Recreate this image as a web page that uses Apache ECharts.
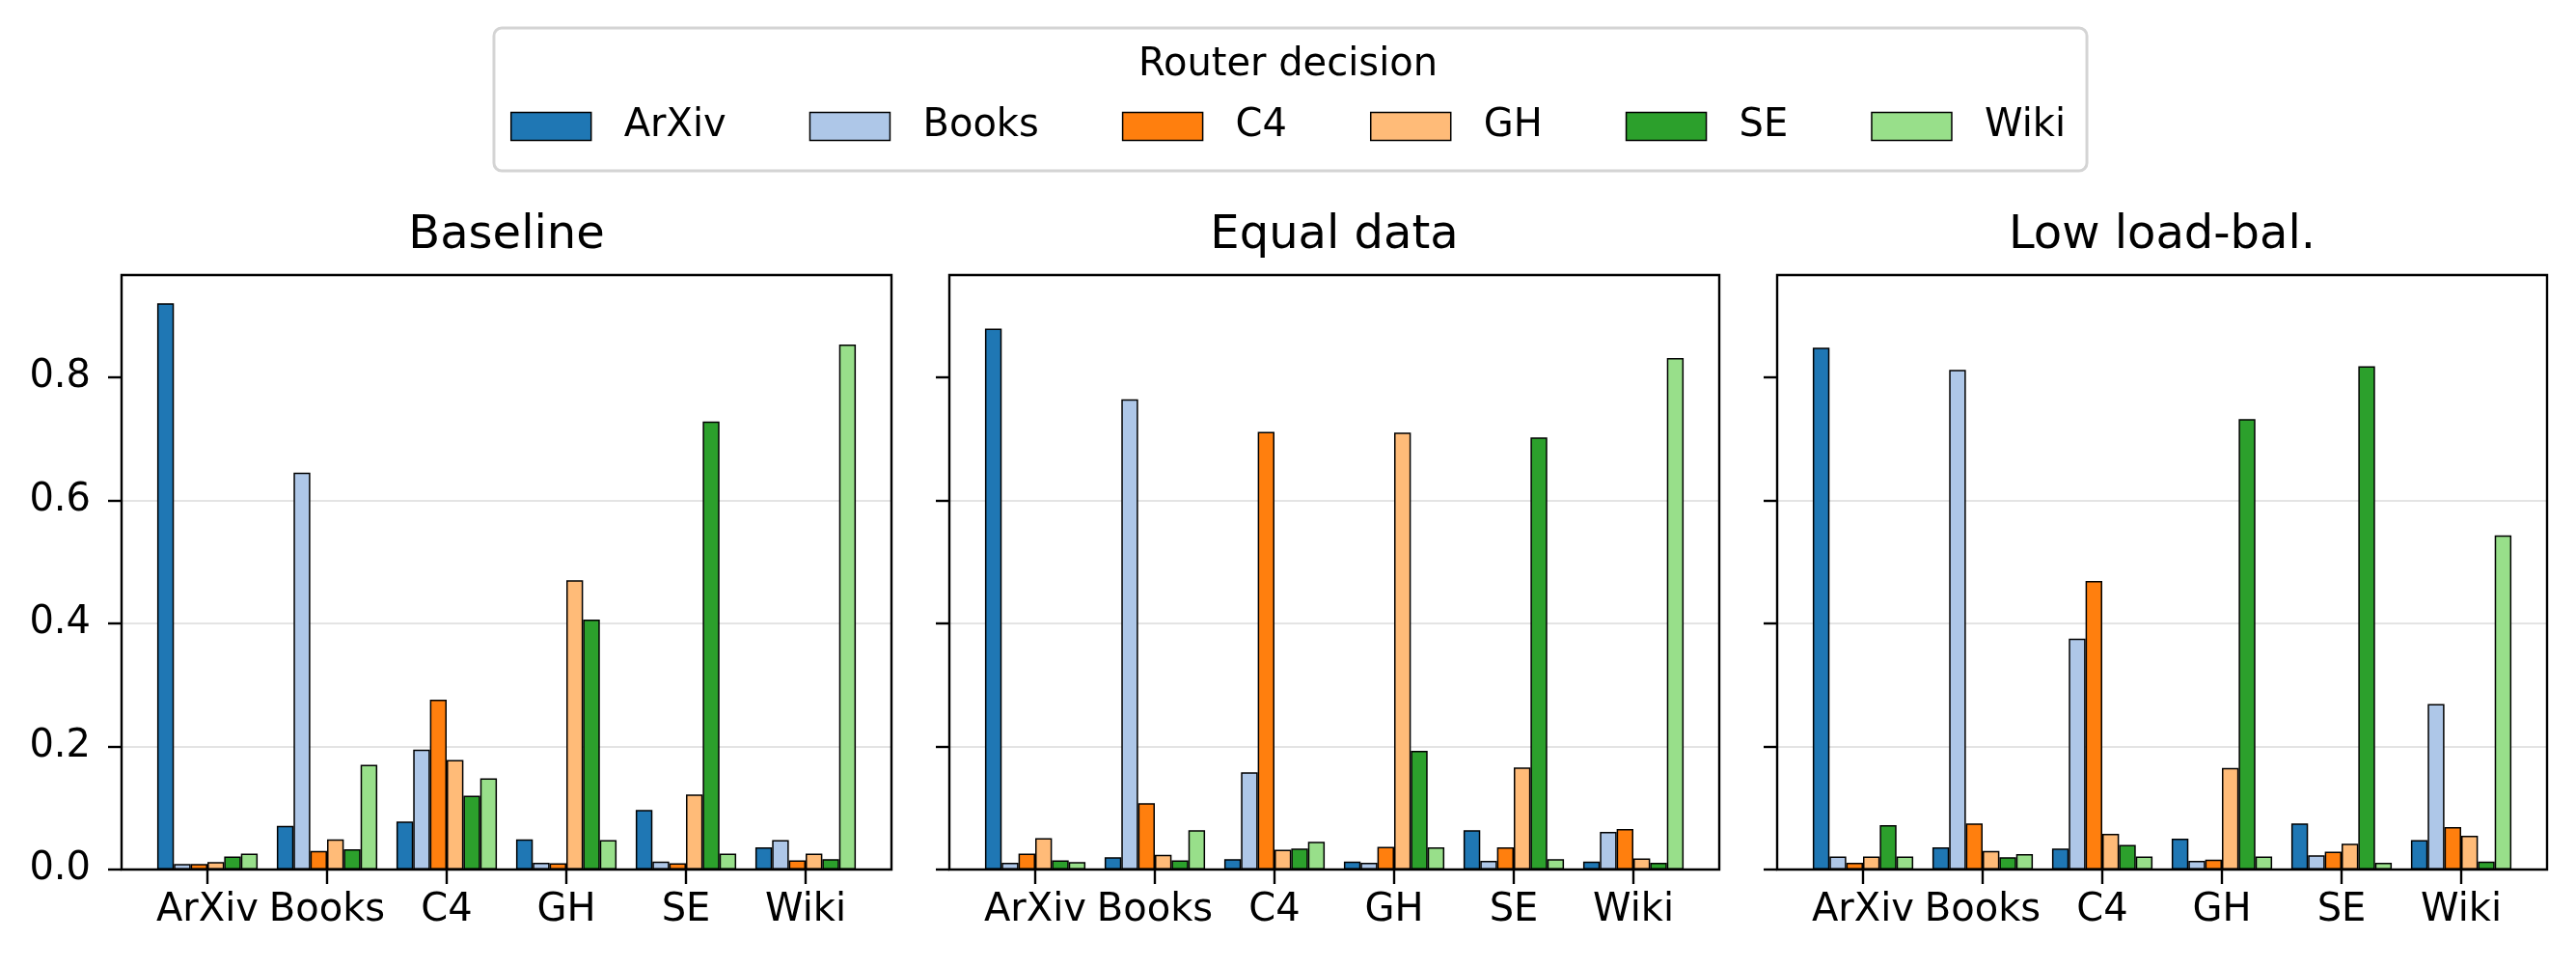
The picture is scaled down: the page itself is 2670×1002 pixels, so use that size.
<!DOCTYPE html>
<html>

<head>
    <meta charset='utf-8' />
    <script src="https://cdn.jsdelivr.net/npm/echarts@6/dist/echarts.min.js"></script>
    <title>Router decision</title>
    <style>
        body {
            margin: 0;
            overflow: hidden;
            background: #fff;
        }

        #chart {
            width: 2670px;
            height: 1002px;
        }
    </style>
</head>

<body>
    <div id="chart"></div>
    <script type="text/javascript">
        // input data source on the x axis, router decision = bar colour
        var categories = ['ArXiv', 'Books', 'C4', 'GH', 'SE', 'Wiki'];
        var routers = ['ArXiv', 'Books', 'C4', 'GH', 'SE', 'Wiki'];
        var panelTitles = ['Baseline', 'Equal data', 'Low load-bal.'];
        var yTicks = [0, 0.2, 0.4, 0.6, 0.8];

        // one row per input category, columns follow routers[]
        var baseline = [
            [0.920, 0.009, 0.009, 0.012, 0.021, 0.026],
            [0.071, 0.645, 0.030, 0.049, 0.033, 0.170],
            [0.078, 0.195, 0.276, 0.178, 0.120, 0.148],
            [0.049, 0.011, 0.010, 0.470, 0.406, 0.048],
            [0.097, 0.013, 0.010, 0.122, 0.728, 0.026],
            [0.036, 0.048, 0.015, 0.026, 0.017, 0.853]
        ];
        var equalData = [
            [0.879, 0.011, 0.026, 0.051, 0.015, 0.012],
            [0.020, 0.764, 0.108, 0.024, 0.015, 0.064],
            [0.017, 0.158, 0.711, 0.032, 0.034, 0.045],
            [0.013, 0.011, 0.037, 0.710, 0.193, 0.036],
            [0.064, 0.014, 0.036, 0.166, 0.702, 0.017],
            [0.013, 0.061, 0.066, 0.018, 0.011, 0.831]
        ];
        var lowLoadBal = [
            [0.848, 0.021, 0.011, 0.021, 0.072, 0.021],
            [0.036, 0.812, 0.075, 0.030, 0.020, 0.025],
            [0.034, 0.375, 0.469, 0.058, 0.040, 0.021],
            [0.050, 0.014, 0.016, 0.165, 0.732, 0.021],
            [0.075, 0.023, 0.029, 0.042, 0.818, 0.011],
            [0.048, 0.269, 0.069, 0.055, 0.013, 0.543]
        ];
        var panels = [baseline, equalData, lowLoadBal];

        var colors = ['#1f77b4', '#aec7e8', '#ff7f0e', '#ffbb78', '#2ca02c', '#98df8a'];
        var font = 'DejaVu Sans';
        var yMax = 0.966;

        // plot boxes (pixels)
        var boxes = [[126, 924], [984, 1782], [1842, 2640]];
        var boxTop = 285, boxHeight = 616;
        var pad = 27; // matplotlib x margin inside the box

        var grid = [], xAxis = [], yAxis = [], series = [], graphic = [];
        var titles = [{
            text: 'Router decision',
            left: 1335,
            top: 48,
            padding: 0,
            textAlign: 'center',
            textStyle: { fontFamily: font, fontSize: 40, fontWeight: 'normal', color: '#000' }
        }];

        boxes.forEach(function (b, p) {
            var w = b[1] - b[0];
            // frame grid: y ticks, labels, gridlines
            grid.push({ left: b[0], top: boxTop, width: w, height: boxHeight, outerBoundsMode: 'none' });
            // bar grid, narrower to keep the matplotlib margins
            grid.push({ left: b[0] + pad, top: boxTop, width: w - 2 * pad, height: boxHeight, outerBoundsMode: 'none' });

            xAxis.push({ gridIndex: 2 * p, type: 'value', min: 0, max: 1, show: false });
            yAxis.push({
                gridIndex: 2 * p,
                type: 'value',
                min: 0,
                max: yMax,
                interval: 0.2,
                axisLine: { show: false },
                axisTick: {
                    show: true,
                    length: 14,
                    customValues: yTicks,
                    lineStyle: { color: '#000', width: 2.4 }
                },
                axisLabel: {
                    show: p === 0,
                    customValues: yTicks,
                    margin: 32,
                    fontFamily: font,
                    fontSize: 40,
                    color: '#000',
                    formatter: function (v) { return v.toFixed(1); }
                },
                splitLine: { show: true, showMaxLine: false, lineStyle: { color: '#e4e4e4', width: 2 } }
            });

            xAxis.push({
                gridIndex: 2 * p + 1,
                type: 'category',
                data: categories,
                boundaryGap: true,
                axisLine: { show: false },
                axisTick: { show: true, alignWithLabel: true, length: 15, lineStyle: { color: '#000', width: 2.4 } },
                axisLabel: { fontFamily: font, fontSize: 40, color: '#000', margin: 23, interval: 0 }
            });
            yAxis.push({ gridIndex: 2 * p + 1, type: 'value', min: 0, max: yMax, show: false });

            routers.forEach(function (r, j) {
                series.push({
                    type: 'bar',
                    name: r,
                    xAxisIndex: 2 * p + 1,
                    yAxisIndex: 2 * p + 1,
                    barGap: '0%',
                    barCategoryGap: '16%',
                    data: panels[p].map(function (row) { return row[j]; }),
                    itemStyle: { color: colors[j], borderColor: '#000', borderWidth: 1.5 }
                });
            });

            titles.push({
                text: panelTitles[p],
                left: (b[0] + b[1]) / 2,
                top: 221,
                padding: 0,
                textAlign: 'center',
                textStyle: { fontFamily: font, fontSize: 48, fontWeight: 'normal', color: '#000' }
            });

            graphic.push({
                type: 'rect',
                z: 100,
                shape: { x: b[0], y: boxTop, width: w, height: boxHeight },
                style: { fill: 'none', stroke: '#000', lineWidth: 2.4 }
            });
        });

        var chart = echarts.init(document.getElementById('chart'), null, { renderer: 'canvas' });
        chart.setOption({
            animation: false,
            backgroundColor: '#fff',
            color: colors,
            title: titles,
            legend: {
                data: routers,
                left: 'center',
                top: 29,
                orient: 'horizontal',
                icon: 'rect',
                itemWidth: 83,
                itemHeight: 29,
                itemGap: 86,
                padding: [82, 22, 26, 17],
                borderColor: '#d4d4d4',
                borderWidth: 3,
                borderRadius: 8,
                itemStyle: { borderColor: '#000', borderWidth: 1.5 },
                textStyle: { fontFamily: font, fontSize: 40, color: '#000', padding: [0, 0, 0, 29] }
            },
            grid: grid,
            xAxis: xAxis,
            yAxis: yAxis,
            series: series,
            graphic: graphic
        });
    </script>
</body>

</html>
